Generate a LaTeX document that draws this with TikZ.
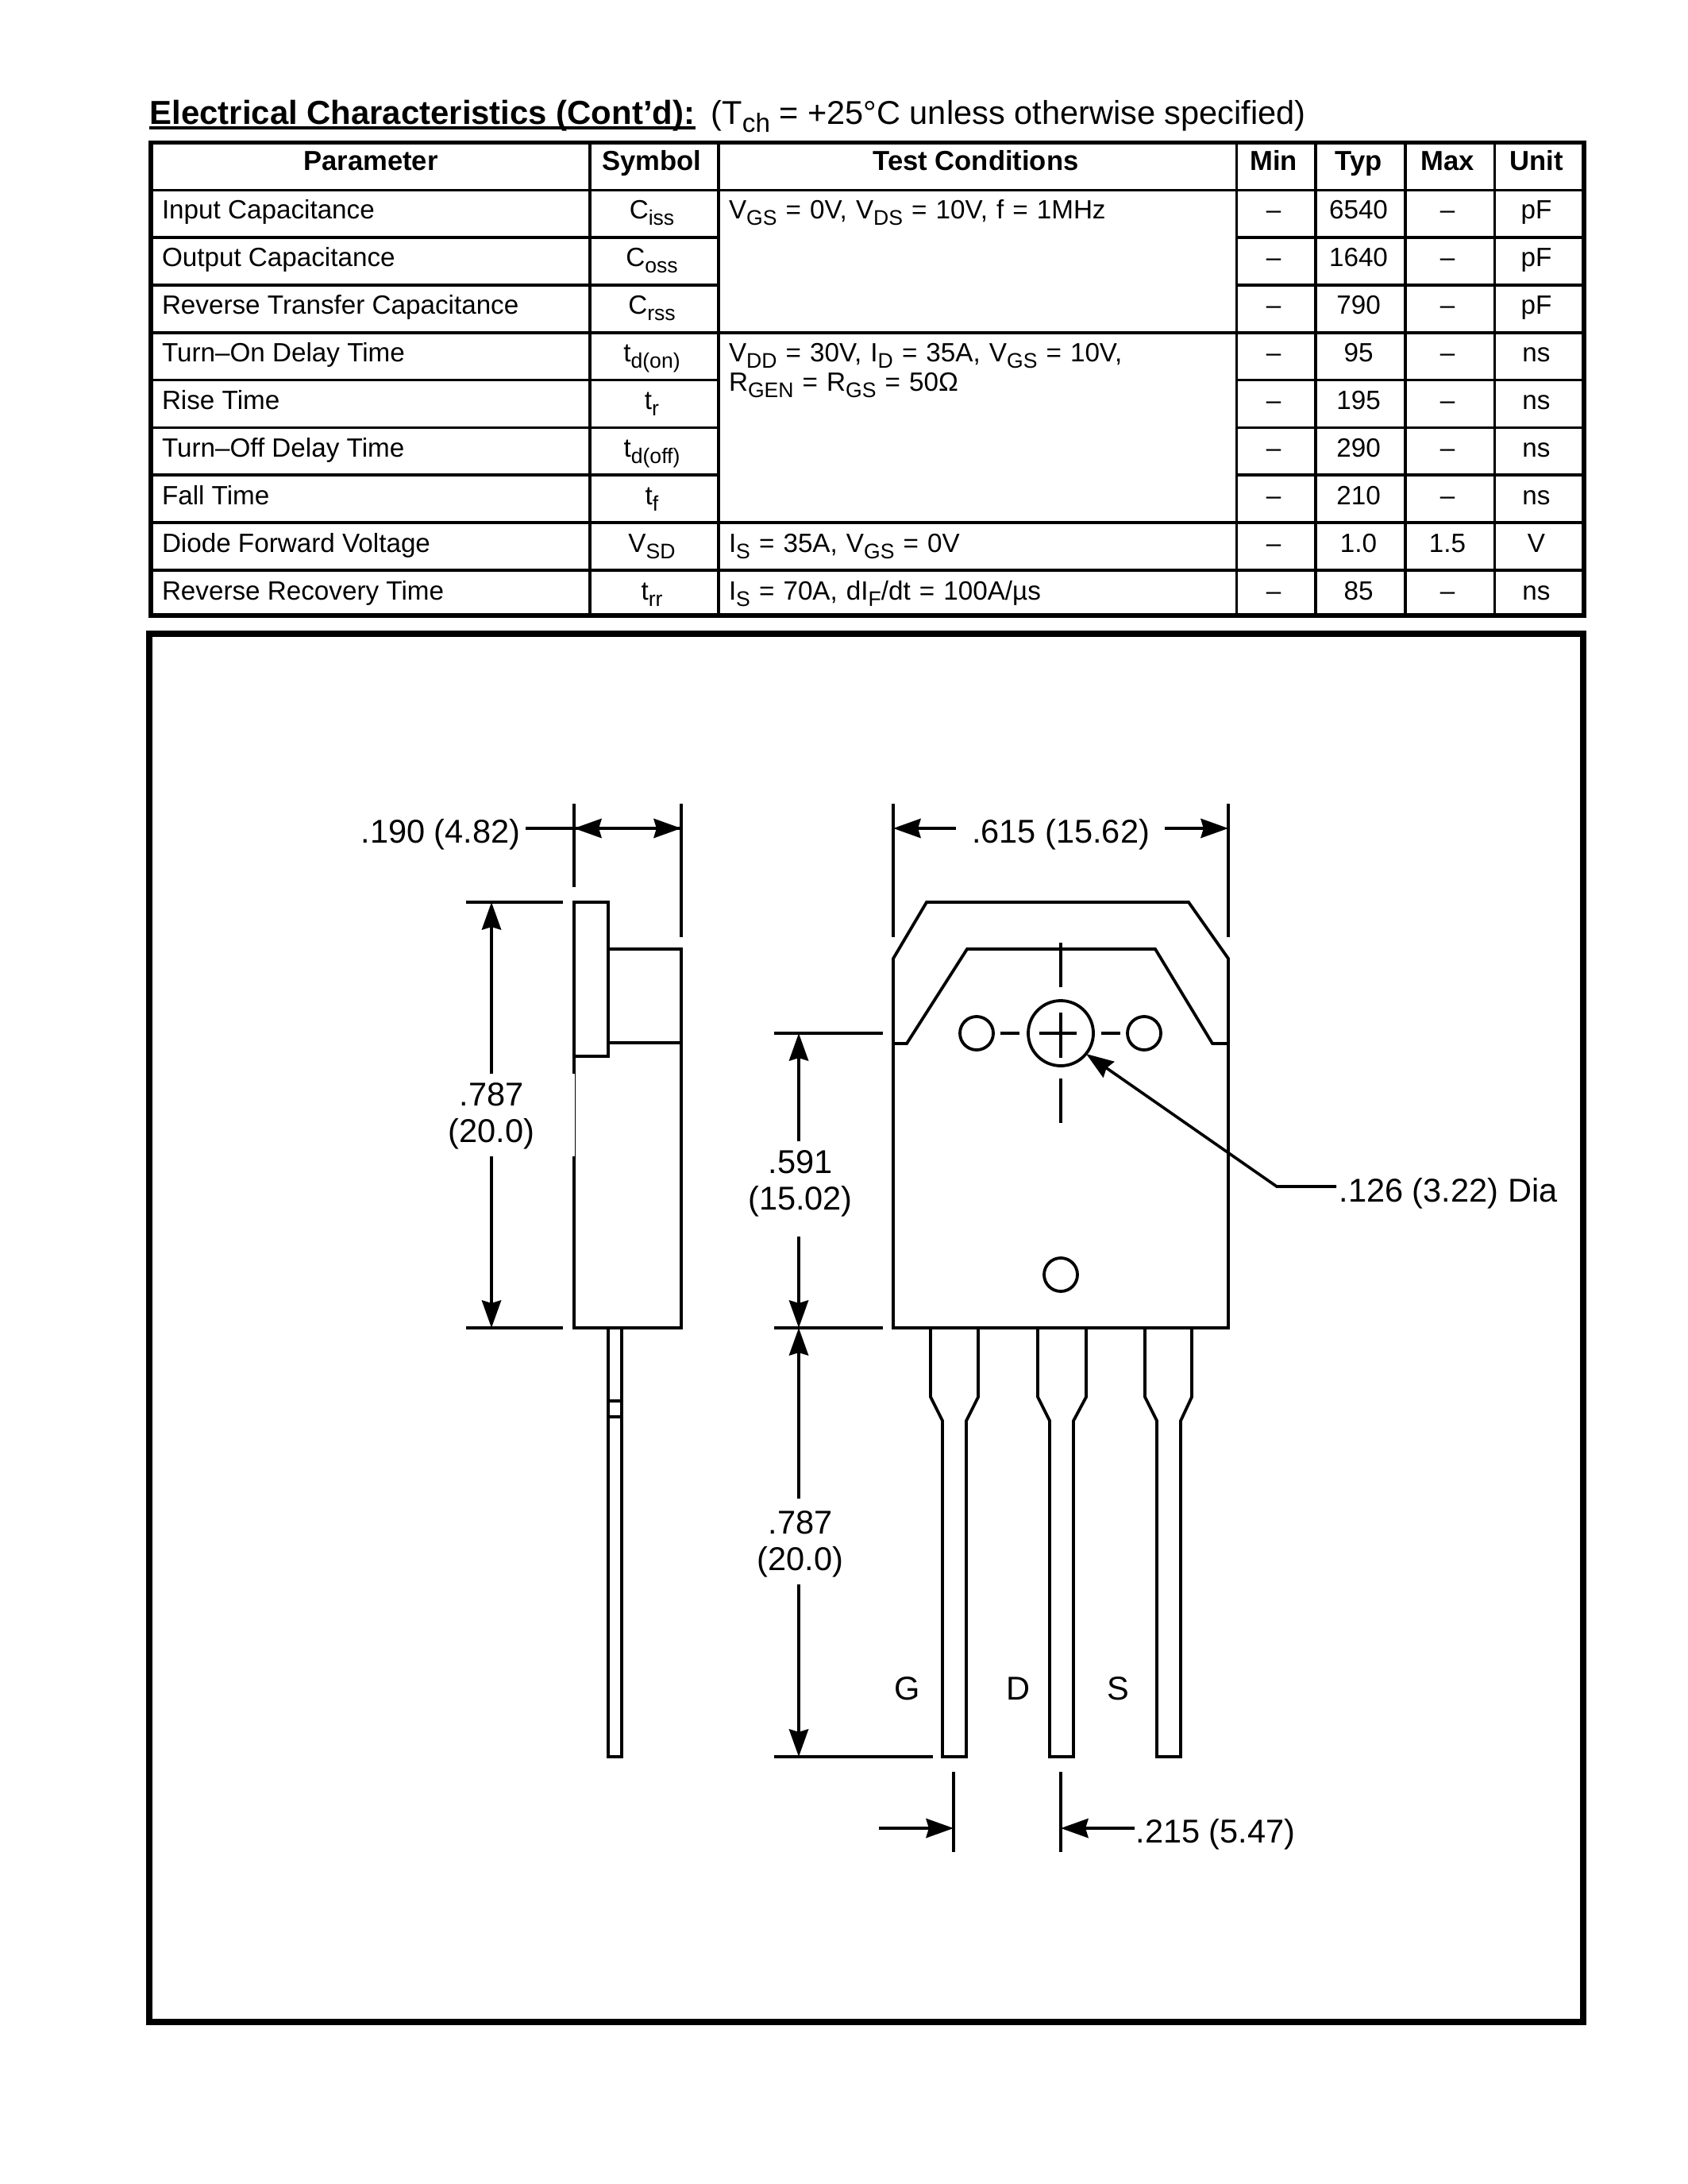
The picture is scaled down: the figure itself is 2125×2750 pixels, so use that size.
\documentclass[tikz,border=0pt]{standalone}
\usepackage{fontspec}
\usetikzlibrary{arrows.meta}
\setmainfont{Liberation Sans}
\newcommand{\lo}[1]{\raisebox{-.45ex}{\scalebox{.8}{#1}}}
\newcommand{\testfont}{\fontsize{9.6}{11}\selectfont\spaceskip 3.2pt\relax}
\tikzset{
  txt/.style={inner sep=0pt,outer sep=0pt,font=\fontsize{9.6}{11}\selectfont},
  left cell/.style={txt,anchor=base west},
  test cell/.style={txt,anchor=base west,font=\testfont},
  mid cell/.style={txt,anchor=base},
  head cell/.style={txt,anchor=base,font=\fontsize{10}{12}\selectfont\bfseries},
  dim text/.style={inner sep=0pt,outer sep=0pt,anchor=base,font=\fontsize{12}{14}\selectfont},
  thin rule/.style={line width=1.05pt},
  thick rule/.style={line width=1.55pt},
  part line/.style={line width=1.1pt,line join=miter},
  center line/.style={line width=1pt},
  dim line/.style={line width=1.05pt},
  dim arrow/.style={line width=1.05pt,-{Stealth[length=10pt,width=7pt,inset=1pt]}},
}
\begin{document}
\begin{tikzpicture}[x=0.004in,y=-0.004in]
  \useasboundingbox (0,0) rectangle (2125,2750);
  %% Title
  \node[inner sep=0pt,anchor=base west,font=\fontsize{12.1}{14}\selectfont\bfseries] (title) at (188,156.5) {Electrical Characteristics (Cont’d):};
  \node[inner sep=0pt,anchor=base west,font=\fontsize{12}{14}\selectfont] (subtitle) at (895,156.5) {(T\lo{ch} = +25°C unless otherwise specified)};
  \draw[line width=1.1pt] ([yshift=-1.2pt]title.base west) -- ([yshift=-1.2pt]title.base east);
  %% Table rules
  \draw[thick rule] (190,179.5) rectangle (1995,775);
  \draw[thin rule] (743,179.5) -- (743,775);
  \draw[thin rule] (905,179.5) -- (905,775);
  \draw[thin rule] (1557.5,179.5) -- (1557.5,775);
  \draw[thin rule] (1657,179.5) -- (1657,775);
  \draw[thin rule] (1770,179.5) -- (1770,775);
  \draw[thin rule] (1882.5,179.5) -- (1882.5,775);
  \draw[thin rule] (190,239.5) -- (1995,239.5);
  \draw[thin rule] (190,299) -- (905,299) (1557.5,299) -- (1995,299);
  \draw[thin rule] (190,359) -- (905,359) (1557.5,359) -- (1995,359);
  \draw[thin rule] (190,419) -- (1995,419);
  \draw[thin rule] (190,478.5) -- (905,478.5) (1557.5,478.5) -- (1995,478.5);
  \draw[thin rule] (190,538.5) -- (905,538.5) (1557.5,538.5) -- (1995,538.5);
  \draw[thin rule] (190,598) -- (905,598) (1557.5,598) -- (1995,598);
  \draw[thin rule] (190,658) -- (1995,658);
  \draw[thin rule] (190,718) -- (1995,718);
  %% Table header
  \node[head cell] (hpar) at (467,215) {Parameter};
  \node[head cell] (hsym) at (821,215) {Symbol};
  \node[head cell] (htest) at (1229,215) {Test Conditions};
  \node[head cell] (hmin) at (1604,215) {Min};
  \node[head cell] (htyp) at (1711,215) {Typ};
  \node[head cell] (hmax) at (1823,215) {Max};
  \node[head cell] (hunit) at (1935,215) {Unit};
  %% Parameter column
  \node[left cell] (par1) at (204,275.5) {Input Capacitance};
  \node[left cell] (par2) at (204,335.5) {Output Capacitance};
  \node[left cell] (par3) at (204,395.5) {Reverse Transfer Capacitance};
  \node[left cell] (par4) at (204,455.5) {Turn–On Delay Time};
  \node[left cell] (par5) at (204,515.5) {Rise Time};
  \node[left cell] (par6) at (204,575.5) {Turn–Off Delay Time};
  \node[left cell] (par7) at (204,635.5) {Fall Time};
  \node[left cell] (par8) at (204,695.5) {Diode Forward Voltage};
  \node[left cell] (par9) at (204,755.5) {Reverse Recovery Time};
  %% Symbol column
  \node[mid cell] (sym1) at (821,275.5) {C\lo{iss}};
  \node[mid cell] (sym2) at (821,335.5) {C\lo{oss}};
  \node[mid cell] (sym3) at (821,395.5) {C\lo{rss}};
  \node[mid cell] (sym4) at (821,455.5) {t\lo{d(on)}};
  \node[mid cell] (sym5) at (821,515.5) {t\lo{r}};
  \node[mid cell] (sym6) at (821,575.5) {t\lo{d(off)}};
  \node[mid cell] (sym7) at (821,635.5) {t\lo{f}};
  \node[mid cell] (sym8) at (821,695.5) {V\lo{SD}};
  \node[mid cell] (sym9) at (821,755.5) {t\lo{rr}};
  %% Test conditions
  \node[test cell] (test1) at (918,275.5) {V\lo{GS} = 0V, V\lo{DS} = 10V, f = 1MHz};
  \node[test cell] (test2) at (918,455.5) {V\lo{DD} = 30V, I\lo{D} = 35A, V\lo{GS} = 10V,};
  \node[test cell] (test3) at (918,493) {R\lo{GEN} = R\lo{GS} = 50Ω};
  \node[test cell] (test4) at (918,695.5) {I\lo{S} = 35A, V\lo{GS} = 0V};
  \node[test cell] (test5) at (918,755.5) {I\lo{S} = 70A, dI\lo{F}/dt = 100A/µs};
  %% Min column
  \node[mid cell] (min1) at (1604,275.5) {–};
  \node[mid cell] (min2) at (1604,335.5) {–};
  \node[mid cell] (min3) at (1604,395.5) {–};
  \node[mid cell] (min4) at (1604,455.5) {–};
  \node[mid cell] (min5) at (1604,515.5) {–};
  \node[mid cell] (min6) at (1604,575.5) {–};
  \node[mid cell] (min7) at (1604,635.5) {–};
  \node[mid cell] (min8) at (1604,695.5) {–};
  \node[mid cell] (min9) at (1604,755.5) {–};
  %% Typ column
  \node[mid cell] (typ1) at (1711,275.5) {6540};
  \node[mid cell] (typ2) at (1711,335.5) {1640};
  \node[mid cell] (typ3) at (1711,395.5) {790};
  \node[mid cell] (typ4) at (1711,455.5) {95};
  \node[mid cell] (typ5) at (1711,515.5) {195};
  \node[mid cell] (typ6) at (1711,575.5) {290};
  \node[mid cell] (typ7) at (1711,635.5) {210};
  \node[mid cell] (typ8) at (1711,695.5) {1.0};
  \node[mid cell] (typ9) at (1711,755.5) {85};
  %% Max column
  \node[mid cell] (max1) at (1823,275.5) {–};
  \node[mid cell] (max2) at (1823,335.5) {–};
  \node[mid cell] (max3) at (1823,395.5) {–};
  \node[mid cell] (max4) at (1823,455.5) {–};
  \node[mid cell] (max5) at (1823,515.5) {–};
  \node[mid cell] (max6) at (1823,575.5) {–};
  \node[mid cell] (max7) at (1823,635.5) {–};
  \node[mid cell] (max8) at (1823,695.5) {1.5};
  \node[mid cell] (max9) at (1823,755.5) {–};
  %% Unit column
  \node[mid cell] (unit1) at (1935,275.5) {pF};
  \node[mid cell] (unit2) at (1935,335.5) {pF};
  \node[mid cell] (unit3) at (1935,395.5) {pF};
  \node[mid cell] (unit4) at (1935,455.5) {ns};
  \node[mid cell] (unit5) at (1935,515.5) {ns};
  \node[mid cell] (unit6) at (1935,575.5) {ns};
  \node[mid cell] (unit7) at (1935,635.5) {ns};
  \node[mid cell] (unit8) at (1935,695.5) {V};
  \node[mid cell] (unit9) at (1935,755.5) {ns};
  %% Frame
  \draw[line width=2.4pt] (188,798) rectangle (1994,2546);
  %% Side view
  \draw[part line] (723,1352) -- (723,1136) -- (766,1136) -- (766,1330) -- (723,1330);
  \draw[part line] (766,1195) -- (858,1195) -- (858,1672) -- (723,1672) -- (723,1456);
  \draw[line width=0.3pt] (724.5,1352) -- (724.5,1456);
  \draw[part line] (766,1313) -- (858,1313);
  \draw[part line] (766,1672) -- (766,2212) -- (783,2212) -- (783,1672);
  \draw[part line] (766,1764) -- (783,1764) (766,1784) -- (783,1784);
  %% Front view
  \draw[part line] (1125,1207) -- (1167,1136) -- (1497,1136) -- (1547,1207) -- (1547,1672) -- (1125,1672) -- cycle;
  \draw[part line] (1125,1314) -- (1142,1314) -- (1218,1195) -- (1455,1195) -- (1527,1314) -- (1547,1314);
  \draw[part line] (1336,1301) circle [radius=41];
  \draw[part line] (1230,1301) circle [radius=21];
  \draw[part line] (1441,1301) circle [radius=21];
  \draw[part line] (1336,1605) circle [radius=21];
  \draw[center line] (1260,1301) -- (1284,1301) (1387,1301) -- (1411,1301) (1309,1301) -- (1356,1301);
  \draw[center line] (1336,1187) -- (1336,1243) (1336,1275) -- (1336,1332) (1336,1358) -- (1336,1414);
  %% Leads
  \draw[part line] (1172,1672) -- (1172,1759) -- (1187,1789) -- (1187,2212) -- (1217,2212) -- (1217,1789) -- (1232,1759) -- (1232,1672);
  \draw[part line] (1307,1672) -- (1307,1759) -- (1322,1789) -- (1322,2212) -- (1352,2212) -- (1352,1789) -- (1368,1759) -- (1368,1672);
  \draw[part line] (1442,1672) -- (1442,1759) -- (1457,1789) -- (1457,2212) -- (1487,2212) -- (1487,1789) -- (1501,1759) -- (1501,1672);
  \node[dim text] (G) at (1143,2140) {G};
  \node[dim text] (D) at (1282,2140) {D};
  \node[dim text] (S) at (1408,2140) {S};
  %% Dimension labels
  \node[dim text] (d190) at (555,1061) {.190 (4.82)};
  \node[dim text] (d615) at (1336,1061) {.615 (15.62)};
  \node[dim text] (d787a) at (619,1392) {.787};
  \node[dim text] (d787b) at (619,1438) {(20.0)};
  \node[dim text] (d591a) at (1008,1477) {.591};
  \node[dim text] (d591b) at (1008,1523) {(15.02)};
  \node[dim text] (d787c) at (1008,1931) {.787};
  \node[dim text] (d787d) at (1008,1977) {(20.0)};
  \node[dim text] (dDia) at (1824,1513) {.126 (3.22) Dia};
  \node[dim text] (d215) at (1531,2320) {.215 (5.47)};
  %% Dimension ends
  \coordinate (e1) at (662,1043);
  \coordinate (e2) at (723,1043);
  \coordinate (e3) at (858,1043);
  \coordinate (e4) at (1204,1043);
  \coordinate (e5) at (1125,1043);
  \coordinate (e6) at (1467,1043);
  \coordinate (e7) at (1547,1043);
  \coordinate (e8) at (619,1352);
  \coordinate (e9) at (619,1136);
  \coordinate (e10) at (619,1456);
  \coordinate (e11) at (619,1672);
  \coordinate (e12) at (1006,1437);
  \coordinate (e13) at (1006,1301);
  \coordinate (e14) at (1006,1557);
  \coordinate (e15) at (1006,1672);
  \coordinate (e16) at (1006,1887);
  \coordinate (e17) at (1006,1995);
  \coordinate (e18) at (1006,2212);
  \coordinate (e19) at (1683,1494);
  \coordinate (e20) at (1608,1494);
  \coordinate (e21) at (1368,1327);
  \coordinate (e22) at (1107,2302);
  \coordinate (e23) at (1201,2302);
  \coordinate (e24) at (1429,2302);
  \coordinate (e25) at (1336,2302);
  %% Extension lines
  \draw[dim line] (723,1012) -- (723,1117) (858,1012) -- (858,1180);
  \draw[dim line] (1125,1012) -- (1125,1180) (1547,1012) -- (1547,1180);
  \draw[dim line] (587,1136) -- (709,1136) (587,1672) -- (709,1672);
  \draw[dim line] (975,1301) -- (1112,1301) (975,1672) -- (1112,1672) (975,2212) -- (1175,2212);
  \draw[dim line] (1201,2231) -- (1201,2332) (1336,2231) -- (1336,2332);
  %% Arrows
  \draw[dim line] (e1) -- (e2);
  \draw[dim arrow] (e3) -- (e2);
  \draw[dim arrow] (e2) -- (e3);
  \draw[dim arrow] (e4) -- (e5);
  \draw[dim arrow] (e6) -- (e7);
  \draw[dim arrow] (e8) -- (e9);
  \draw[dim arrow] (e10) -- (e11);
  \draw[dim arrow] (e12) -- (e13);
  \draw[dim arrow] (e14) -- (e15);
  \draw[dim arrow] (e16) -- (e15);
  \draw[dim arrow] (e17) -- (e18);
  \draw[dim arrow] (e19) -- (e20) -- (e21);
  \draw[dim arrow] (e22) -- (e23);
  \draw[dim arrow] (e24) -- (e25);
\end{tikzpicture}
\end{document}
